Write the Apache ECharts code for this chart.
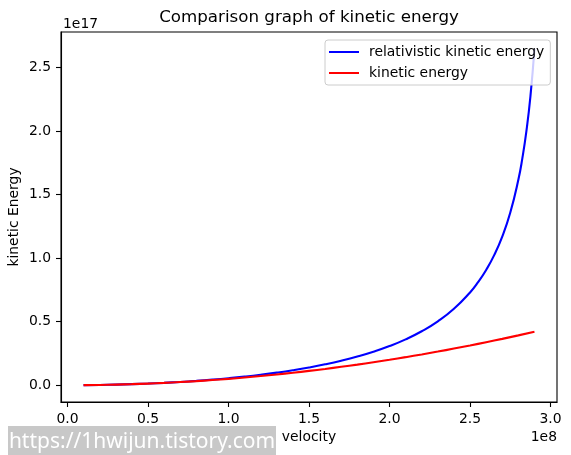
<!DOCTYPE html>
<html>
<head>
<meta charset="utf-8">
<script src="https://cdn.jsdelivr.net/npm/echarts@6/dist/echarts.min.js"></script>
<style>
  html, body { margin: 0; padding: 0; background: #fff; }
  #chart { width: 571px; height: 455px; }
</style>
</head>
<body>
<div id="chart"></div>
<script>
// velocity in units of 1e8 m/s, energy in units of 1e17 J
let relVelocity = [0.1, 0.2, 0.3, 0.4, 0.5, 0.6, 0.7, 0.8, 0.9, 1.0, 1.1, 1.2, 1.3, 1.4, 1.5,
  1.6, 1.7, 1.8, 1.9, 2.0, 2.1, 2.2, 2.3, 2.4, 2.5, 2.55, 2.6, 2.65, 2.7, 2.75, 2.8, 2.825, 2.85, 2.875, 2.9];
let relEnergy = [0.0005, 0.00201, 0.00453, 0.00811, 0.01277, 0.01856, 0.02555, 0.03382, 0.04346, 0.0546,
  0.06739, 0.082, 0.09865, 0.11764, 0.13928, 0.16402, 0.19239, 0.22513, 0.26315, 0.30772,
  0.36059, 0.42427, 0.50246, 0.60102, 0.72972, 0.81047, 0.90654, 1.02335, 1.16925, 1.35832,
  1.61647, 1.78637, 1.99819, 2.27242, 2.64663];

let velocity = [0.1, 0.2, 0.3, 0.4, 0.5, 0.6, 0.7, 0.8, 0.9, 1.0, 1.1, 1.2, 1.3, 1.4, 1.5,
  1.6, 1.7, 1.8, 1.9, 2.0, 2.1, 2.2, 2.3, 2.4, 2.5, 2.6, 2.7, 2.8, 2.9];
let energy = [0.0005, 0.002, 0.0045, 0.008, 0.0125, 0.018, 0.0245, 0.032, 0.0405, 0.05,
  0.0605, 0.072, 0.0845, 0.098, 0.1125, 0.128, 0.1445, 0.162, 0.1805, 0.2,
  0.2205, 0.242, 0.2645, 0.288, 0.3125, 0.338, 0.3645, 0.392, 0.4205];

let xTicks = [0, 0.5, 1.0, 1.5, 2.0, 2.5, 3.0];
let yTicks = [0, 0.5, 1.0, 1.5, 2.0, 2.5];

let seriesNames = ['relativistic kinetic energy', 'kinetic energy'];

const font = 'DejaVu Sans';
const fs = 13.9;

function pairs(xs, ys) {
  return xs.map((x, i) => [x, ys[i]]);
}

var myChart = echarts.init(document.getElementById('chart'), null, { renderer: 'canvas' });

var axisCommon = {
  type: 'value',
  splitLine: { show: false },
  axisLine: { show: true, onZero: false, lineStyle: { color: '#000', width: 1.1 } },
  axisTick: { show: true, inside: false, length: 5, lineStyle: { color: '#000', width: 1.1 } },
  axisLabel: { color: '#000', fontFamily: font, fontSize: fs, margin: 10,
    formatter: v => v.toFixed(1) }
};

var option = {
  backgroundColor: '#fff',
  animation: false,
  grid: {
    left: 61, top: 32, width: 496, height: 370,
    containLabel: false, outerBoundsMode: 'none',
    show: true, borderColor: '#000', borderWidth: 1.1, backgroundColor: 'transparent'
  },
  xAxis: Object.assign({}, axisCommon, {
    min: -0.04, max: 3.04,
    name: 'velocity', nameLocation: 'middle', nameGap: 28, nameMoveOverlap: false,
    nameTextStyle: { color: '#000', fontFamily: font, fontSize: fs },
    axisTick: Object.assign({}, axisCommon.axisTick, { customValues: xTicks }),
    axisLabel: Object.assign({}, axisCommon.axisLabel, { customValues: xTicks })
  }),
  yAxis: Object.assign({}, axisCommon, {
    min: -0.1323, max: 2.7789,
    name: 'kinetic Energy', nameLocation: 'middle', nameGap: 40, nameMoveOverlap: false,
    nameTextStyle: { color: '#000', fontFamily: font, fontSize: fs },
    axisTick: Object.assign({}, axisCommon.axisTick, { customValues: yTicks }),
    axisLabel: Object.assign({}, axisCommon.axisLabel, { customValues: yTicks })
  }),
  legend: {
    orient: 'vertical',
    left: 325, top: 40,
    padding: [4, 6, 4, 4],
    itemGap: 5,
    itemWidth: 30, itemHeight: 2,
    icon: 'rect',
    backgroundColor: 'rgba(255,255,255,0.8)',
    borderColor: '#cccccc', borderWidth: 1, borderRadius: 3,
    textStyle: { color: '#000', fontFamily: font, fontSize: fs, lineHeight: 16, padding: [0, 0, 0, 5] },
    data: seriesNames
  },
  graphic: [
    { type: 'text', x: 309, y: 18, style: { text: 'Comparison graph of kinetic energy',
      fontFamily: font, fontSize: 16.7, fill: '#000', textAlign: 'center', textVerticalAlign: 'middle' } },
    { type: 'text', x: 63, y: 24, style: { text: '1e17', fontFamily: font, fontSize: fs,
      fill: '#000', textVerticalAlign: 'middle' } },
    { type: 'text', x: 557, y: 437, style: { text: '1e8', fontFamily: font, fontSize: fs,
      fill: '#000', textAlign: 'right', textVerticalAlign: 'middle' } },
    { type: 'rect', shape: { x: 8, y: 426, width: 268, height: 29 }, style: { fill: '#c8c8c8' }, z: 10 },
    { type: 'text', x: 142, y: 442, z: 11, style: { text: 'https://1hwijun.tistory.com',
      fontFamily: 'Noto Sans', fontSize: 21, fill: '#fff', textAlign: 'center', textVerticalAlign: 'middle' } }
  ],
  series: [
    {
      name: seriesNames[0], type: 'line', showSymbol: false,
      smooth: true,
      color: '#0000ff', lineStyle: { color: '#0000ff', width: 2.1 },
      data: pairs(relVelocity, relEnergy)
    },
    {
      name: seriesNames[1], type: 'line', showSymbol: false,
      smooth: true,
      color: '#ff0000', lineStyle: { color: '#ff0000', width: 2.1 },
      data: pairs(velocity, energy)
    }
  ]
};

myChart.setOption(option);
</script>
</body>
</html>
